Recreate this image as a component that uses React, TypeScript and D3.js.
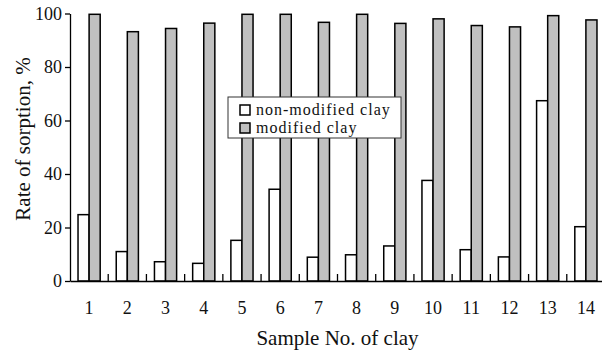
import * as d3 from "d3";
import { useEffect, useRef } from "react";

const samples = ["1", "2", "3", "4", "5", "6", "7", "8", "9", "10", "11", "12", "13", "14"];
const nonModified = [24.8, 11, 7.2, 6.6, 15.2, 34.3, 8.9, 9.8, 13.1, 37.6, 11.7, 9, 67.4, 20.3];
const modified = [99.7, 93.2, 94.4, 96.4, 99.7, 99.7, 96.7, 99.7, 96.3, 98.0, 95.5, 95.0, 99.2, 97.6];
const seriesNames = ["non-modified clay", "modified clay"];
const seriesFill = ["#ffffff", "#c0c0c0"];
const yTicks = [0, 20, 40, 60, 80, 100];

const width = 602;
const height = 352;
const margin = { top: 13.5, left: 70, right: -3, bottom: 71 };
const font = "Liberation Serif, Times New Roman, serif";

export default function App() {
  const ref = useRef<SVGSVGElement>(null);

  useEffect(() => {
    const svg = d3.select(ref.current);
    svg.selectAll("*").remove();

    const innerW = width - margin.left - margin.right;
    const innerH = height - margin.top - margin.bottom;

    const x = d3.scaleBand().domain(samples).range([margin.left, margin.left + innerW]);
    const sub = d3
      .scaleBand()
      .domain(seriesNames)
      .range([x.bandwidth() * 0.21, x.bandwidth() * 0.79]);
    const y = d3.scaleLinear().domain([0, 100]).range([margin.top + innerH, margin.top]);

    const rows = samples.map((s, i) => ({ s, vals: [nonModified[i], modified[i]] }));

    const groups = svg
      .append("g")
      .selectAll("g")
      .data(rows)
      .join("g")
      .attr("transform", (d) => `translate(${x(d.s)},0)`);

    groups
      .selectAll("rect")
      .data((d) => d.vals.map((v, k) => ({ v, k })))
      .join("rect")
      .attr("x", (d) => sub(seriesNames[d.k])!)
      .attr("width", sub.bandwidth())
      .attr("y", (d) => y(d.v))
      .attr("height", (d) => y(0) - y(d.v))
      .attr("fill", (d) => seriesFill[d.k])
      .attr("stroke", "#000")
      .attr("stroke-width", 1.5);

    // y axis
    const yAxis = svg
      .append("g")
      .attr("transform", `translate(${margin.left},0)`)
      .call(d3.axisLeft(y).tickValues(yTicks).tickSize(5).tickPadding(3).tickSizeOuter(0));
    yAxis.attr("font-family", null).attr("font-size", null);
    yAxis.select(".domain").attr("stroke", "#000").attr("stroke-width", 1.3);
    yAxis.selectAll("line").attr("stroke-width", 1.3);
    yAxis.selectAll("text").style("font-family", font).style("font-size", "18px").attr("fill", "#111");

    // x axis
    const xAxis = svg
      .append("g")
      .attr("transform", `translate(0,${y(0)})`)
      .call(d3.axisBottom(x).tickSize(0).tickPadding(20));
    xAxis.attr("font-family", null).attr("font-size", null);
    xAxis.select(".domain").attr("stroke", "#000").attr("stroke-width", 1.3);
    xAxis.selectAll("text").style("font-family", font).style("font-size", "18px").attr("fill", "#111");

    // boundary ticks between groups, pointing up
    svg
      .append("g")
      .selectAll("line")
      .data(samples.slice(1))
      .join("line")
      .attr("x1", (d) => x(d)!)
      .attr("x2", (d) => x(d)!)
      .attr("y1", y(0))
      .attr("y2", y(0) - 7)
      .attr("stroke", "#000")
      .attr("stroke-width", 1.3);

    // axis titles
    svg
      .append("text")
      .attr("x", margin.left + innerW / 2)
      .attr("y", 345)
      .attr("text-anchor", "middle")
      .style("font-family", font)
      .style("font-size", "21px")
      .attr("fill", "#111")
      .text("Sample No. of clay");

    svg
      .append("text")
      .attr("transform", "translate(30,139) rotate(-90)")
      .attr("text-anchor", "middle")
      .style("font-family", font)
      .style("font-size", "21px")
      .attr("fill", "#111")
      .text("Rate of sorption, %");

    // legend
    const lg = svg.append("g").attr("transform", "translate(228,97)");
    lg.append("rect")
      .attr("width", 173)
      .attr("height", 41)
      .attr("fill", "#fff")
      .attr("stroke", "#333")
      .attr("stroke-width", 1);
    seriesNames.forEach((name, i) => {
      lg.append("rect")
        .attr("x", 12)
        .attr("y", 8 + i * 18)
        .attr("width", 10)
        .attr("height", 10)
        .attr("fill", seriesFill[i])
        .attr("stroke", "#000")
        .attr("stroke-width", 1.5);
      lg.append("text")
        .attr("x", 28)
        .attr("y", 17.5 + i * 18)
        .style("font-family", font)
        .style("font-size", "16px")
        .style("letter-spacing", "1px")
        .attr("fill", "#111")
        .text(name);
    });
  }, []);

  return (
    <svg
      ref={ref}
      width={width}
      height={height}
      style={{ position: "absolute", left: 0, top: 0, background: "#fff" }}
    />
  );
}
